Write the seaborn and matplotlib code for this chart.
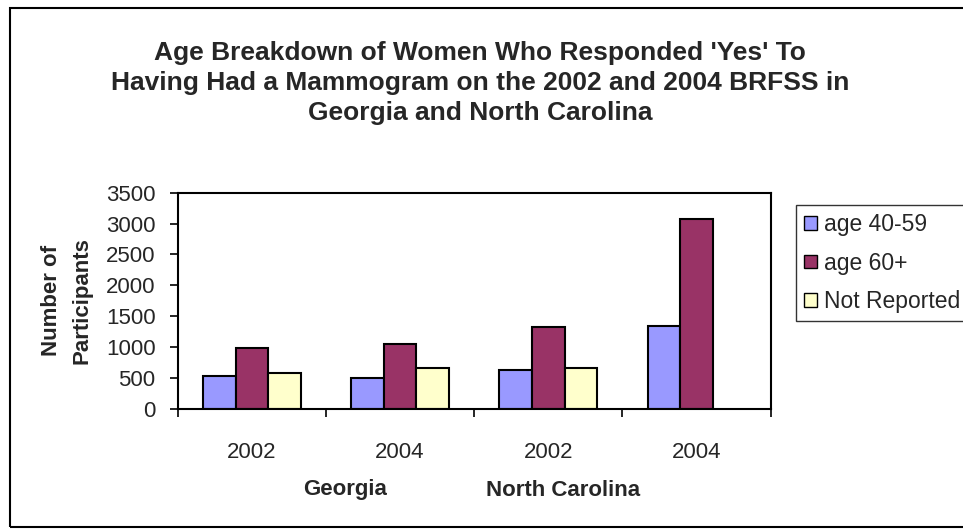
import numpy as np
import pandas as pd
import matplotlib
matplotlib.use('Agg')
import matplotlib.pyplot as plt
from matplotlib.patches import Patch, Rectangle
import seaborn as sns

# data
states = ['Georgia', 'Georgia', 'North Carolina', 'North Carolina']
years = ['2002', '2004', '2002', '2004']
age_40_59 = [535, 502, 627, 1345]
age_60_plus = [983, 1048, 1318, 3079]
not_reported = [573, 659, 659, np.nan]
series = ['age 40-59', 'age 60+', 'Not Reported']
colors = ['#9999FF', '#993366', '#FFFFCC']

groups = [s + ' ' + y for s, y in zip(states, years)]
rows = []
for name, vals in zip(series, [age_40_59, age_60_plus, not_reported]):
    for g, v in zip(groups, vals):
        rows.append({'group': g, 'series': name, 'count': v})
df = pd.DataFrame(rows).dropna()

sns.set_style('white')
plt.rcParams['font.family'] = ['Liberation Sans', 'DejaVu Sans']

W, H = 963, 529
fs = 16
fig = plt.figure(figsize=(W / 100, H / 100), dpi=100)
ax = fig.add_axes([177.7 / W, 1 - 408.7 / H, 593 / W, 216 / H])

sns.barplot(data=df, x='group', y='count', hue='series', order=groups,
            hue_order=series, palette=colors, width=0.66, errorbar=None,
            edgecolor='black', linewidth=1.5, saturation=1, ax=ax, legend=False)

ax.set_xlim(-0.5, 3.5)
ax.set_ylim(0, 3500)
ax.set_yticks(range(0, 3501, 500))
ax.set_xticks(range(4))
ax.set_xticklabels(years)
ax.set_xticks(np.arange(-0.5, 4, 1), minor=True)
ax.tick_params(axis='x', which='major', length=0, pad=24, labelsize=fs)
ax.tick_params(axis='x', which='minor', length=6, width=1.2, direction='out', color='black')
ax.tick_params(axis='y', length=6, width=1.2, direction='out', color='black', pad=10, labelsize=fs)
ax.xaxis.set_ticks_position('bottom')
ax.yaxis.set_ticks_position('left')
for sp in ax.spines.values():
    sp.set_visible(True)
    sp.set_color('black')
    sp.set_linewidth(1.5)

ax.set_xlabel('')
ax.set_ylabel('Number of\nParticipants', fontsize=fs, fontweight='bold', linespacing=1.6)
ax.yaxis.set_label_coords(-0.143, 0.5)

fig.text(480 / W, 1 - 83 / H,
         "Age Breakdown of Women Who Responded 'Yes' To\n"
         "Having Had a Mammogram on the 2002 and 2004 BRFSS in\n"
         "Georgia and North Carolina",
         ha='center', va='center', fontsize=19, fontweight='bold', linespacing=1.32)

fig.text(345 / W, 1 - 490 / H, 'Georgia', ha='center', va='center',
         fontsize=fs, fontweight='bold')
fig.text(563 / W, 1 - 490 / H, 'North Carolina', ha='center', va='center',
         fontsize=fs, fontweight='bold')

handles = [Patch(facecolor=c, edgecolor='black', linewidth=1) for c in colors]
leg = fig.legend(handles, series, loc='upper left',
                 bbox_to_anchor=(796 / W, 1 - 205 / H), fontsize=16.5,
                 frameon=True, fancybox=False, handlelength=0.55, handleheight=0.55,
                 handletextpad=0.3, labelspacing=0.68, borderpad=0.35, borderaxespad=0)
leg.get_frame().set_edgecolor('black')
leg.get_frame().set_linewidth(1)

fig.patches.append(Rectangle((10 / W, 2 / H), 1.0, 1 - 10 / H, transform=fig.transFigure,
                             facecolor='none', edgecolor='black', linewidth=1.5))

fig.savefig('out.png', dpi=100)
